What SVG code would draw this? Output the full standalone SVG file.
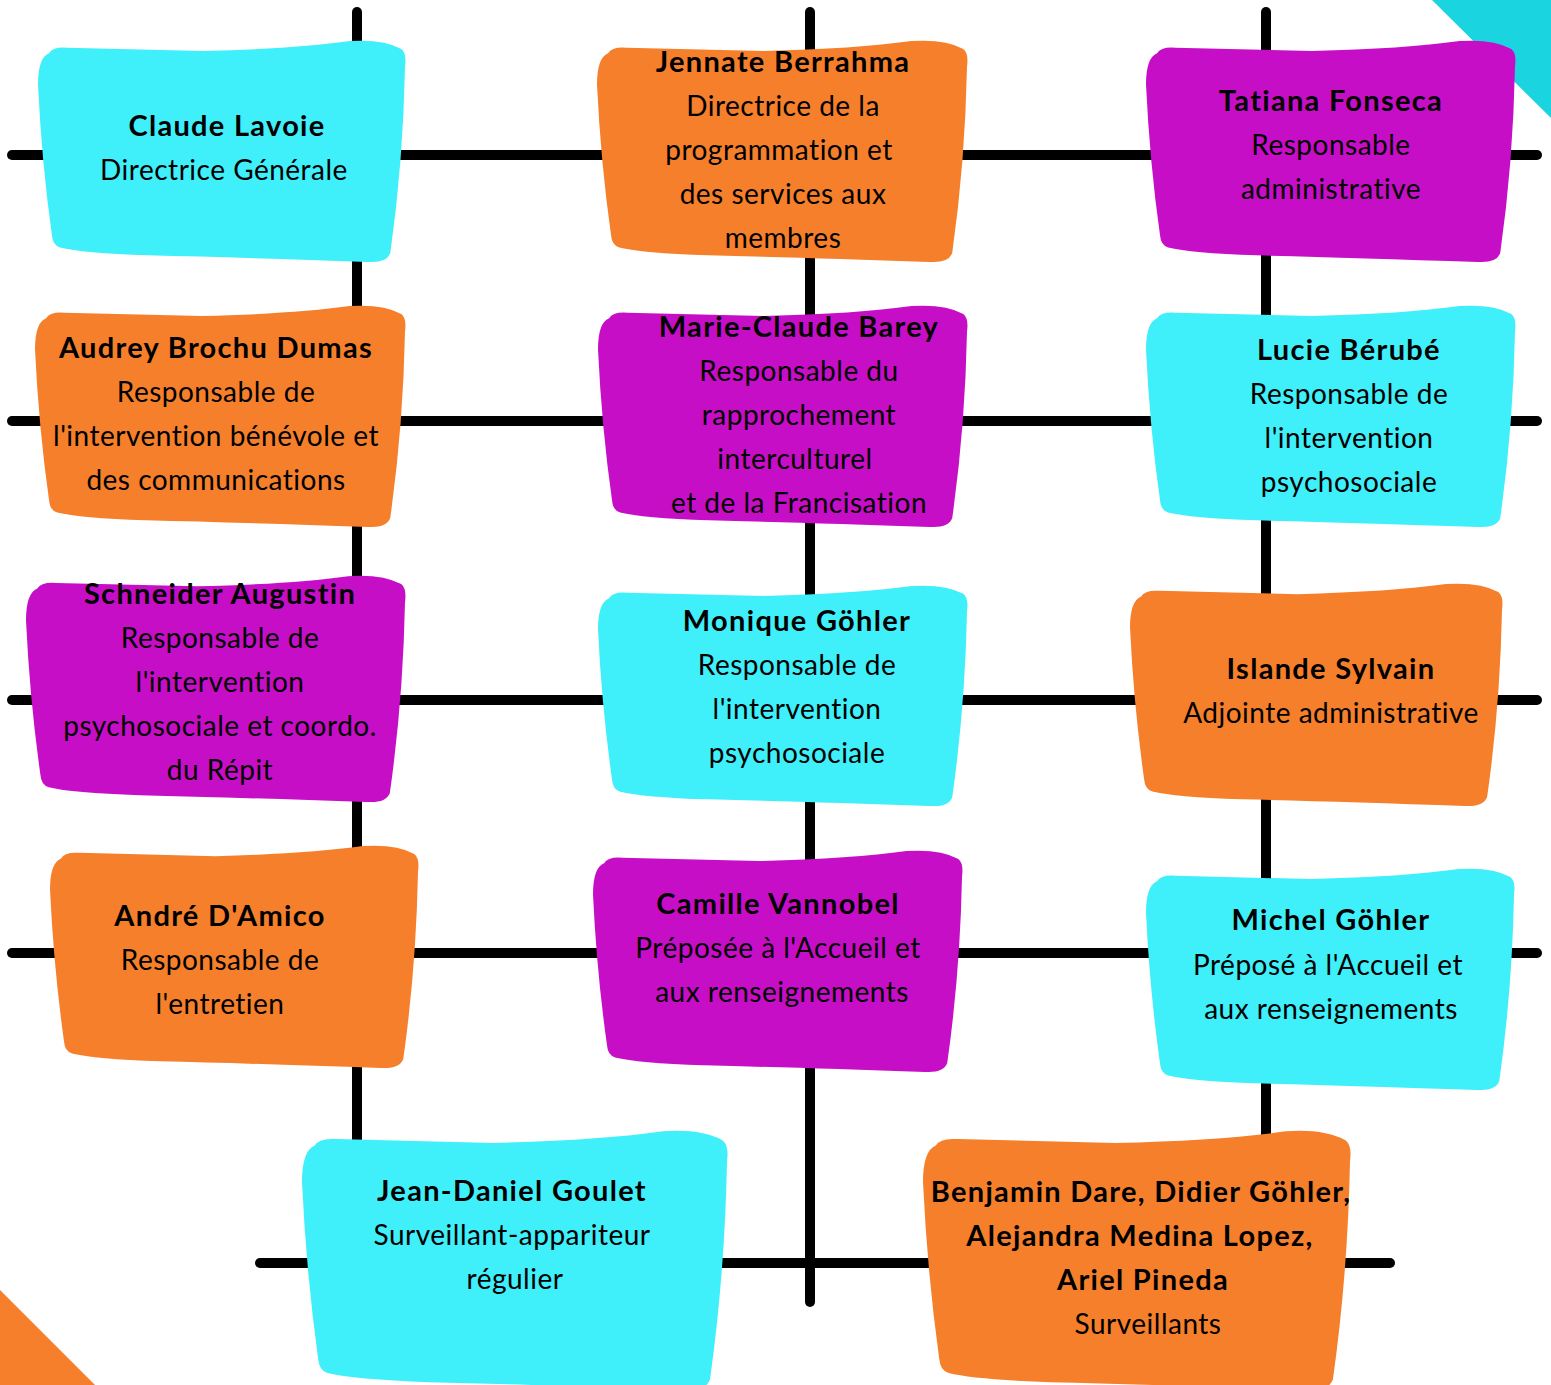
<svg xmlns="http://www.w3.org/2000/svg" width="1551" height="1385" viewBox="0 0 1551 1385">
<style>
.ln{stroke:#000;stroke-width:10;stroke-linecap:round;fill:none}
.cy{fill:#3FEFFA}.or{fill:#F57F2A}.mg{fill:#C60EC6}
text{font-family:Lato,"Liberation Sans",sans-serif;font-size:28px;letter-spacing:0.5px;fill:#000;text-anchor:middle}
.b{font-weight:bold;font-size:29px;letter-spacing:1.3px}
</style>
<defs>
<path id="blob" d="M 3 6 Q 4 3 8 3.5 L 45 5 Q 70 4 85 0.5 Q 94 -0.5 99 4 Q 100.5 6 100 12 Q 99.5 55 96 96 Q 95 100.5 90 100 Q 55 98 30 97 Q 12 96 6 93.5 Q 4 92.5 3.8 88 Q 1 55 0 20 Q 0 8 3 6 Z"/>
</defs>
<rect width="1551" height="1385" fill="#fff"/>
<polygon points="1432,0 1551,0 1551,118" fill="#1AD4E0"/>
<polygon points="0,1290 0,1385 95,1385" fill="#F57F2A"/>
<g id="connectors">
<line class="ln" x1="357" y1="12" x2="357" y2="1150"/>
<line class="ln" x1="810" y1="12" x2="810" y2="1302"/>
<line class="ln" x1="1266" y1="12" x2="1266" y2="1140"/>
<line class="ln" x1="12" y1="155" x2="1537" y2="155"/>
<line class="ln" x1="12" y1="421" x2="1537" y2="421"/>
<line class="ln" x1="12" y1="700" x2="1537" y2="700"/>
<line class="ln" x1="12" y1="953" x2="1537" y2="953"/>
<line class="ln" x1="260" y1="1263" x2="1390" y2="1263"/>
</g>
<g id="n-claude">
<use href="#blob" class="cy" transform="translate(38,40) scale(3.67,2.22)"/>
<text x="227" y="136" class="b">Claude Lavoie</text>
<text x="224" y="180">Directrice Générale</text>
</g>
<g id="n-audrey">
<use href="#blob" class="or" transform="translate(35,305) scale(3.7,2.22)"/>
<text x="216" y="358" class="b">Audrey Brochu Dumas</text>
<text x="216" y="402">Responsable de</text>
<text x="216" y="446">l'intervention bénévole et</text>
<text x="216" y="490">des communications</text>
</g>
<g id="n-schneider">
<use href="#blob" class="mg" transform="translate(26,575) scale(3.79,2.27)"/>
<text x="220" y="604" class="b">Schneider Augustin</text>
<text x="220" y="648">Responsable de</text>
<text x="220" y="692">l'intervention</text>
<text x="220" y="736">psychosociale et coordo.</text>
<text x="220" y="780">du Répit</text>
</g>
<g id="n-andre">
<use href="#blob" class="or" transform="translate(50,845) scale(3.68,2.23)"/>
<text x="220" y="926" class="b">André D'Amico</text>
<text x="220" y="970">Responsable de</text>
<text x="220" y="1014">l'entretien</text>
</g>
<g id="n-jeandaniel">
<use href="#blob" class="cy" transform="translate(302,1130) scale(4.25,2.6)"/>
<text x="512" y="1201" class="b">Jean-Daniel Goulet</text>
<text x="512" y="1245">Surveillant-appariteur</text>
<text x="515" y="1289">régulier</text>
</g>
<g id="n-jennate">
<use href="#blob" class="or" transform="translate(597,40) scale(3.7,2.22)"/>
<text x="783" y="72" class="b">Jennate Berrahma</text>
<text x="783" y="116">Directrice de la</text>
<text x="779" y="160">programmation et</text>
<text x="783" y="204">des services aux</text>
<text x="783" y="248">membres</text>
</g>
<g id="n-marieclaude">
<use href="#blob" class="mg" transform="translate(598,305) scale(3.69,2.22)"/>
<text x="799" y="337" class="b">Marie-Claude Barey</text>
<text x="799" y="381">Responsable du</text>
<text x="799" y="425">rapprochement</text>
<text x="795" y="469">interculturel</text>
<text x="799" y="513">et de la Francisation</text>
</g>
<g id="n-monique">
<use href="#blob" class="cy" transform="translate(598,585) scale(3.69,2.21)"/>
<text x="797" y="631" class="b">Monique Göhler</text>
<text x="797" y="675">Responsable de</text>
<text x="797" y="719">l'intervention</text>
<text x="797" y="763">psychosociale</text>
</g>
<g id="n-camille">
<use href="#blob" class="mg" transform="translate(593,850) scale(3.69,2.22)"/>
<text x="778" y="914" class="b">Camille Vannobel</text>
<text x="778" y="958">Préposée à l'Accueil et</text>
<text x="782" y="1002">aux renseignements</text>
</g>
<g id="n-surveillants">
<use href="#blob" class="or" transform="translate(923,1130) scale(4.27,2.6)"/>
<text x="1141" y="1202" class="b">Benjamin Dare, Didier Göhler,</text>
<text x="1140" y="1246" class="b">Alejandra Medina Lopez,</text>
<text x="1143" y="1290" class="b">Ariel Pineda</text>
<text x="1148" y="1334">Surveillants</text>
</g>
<g id="n-tatiana">
<use href="#blob" class="mg" transform="translate(1146,40) scale(3.69,2.22)"/>
<text x="1331" y="111" class="b">Tatiana Fonseca</text>
<text x="1331" y="155">Responsable</text>
<text x="1331" y="199">administrative</text>
</g>
<g id="n-lucie">
<use href="#blob" class="cy" transform="translate(1146,305) scale(3.69,2.22)"/>
<text x="1349" y="360" class="b">Lucie Bérubé</text>
<text x="1349" y="404">Responsable de</text>
<text x="1349" y="448">l'intervention</text>
<text x="1349" y="492">psychosociale</text>
</g>
<g id="n-islande">
<use href="#blob" class="or" transform="translate(1130,583) scale(3.72,2.23)"/>
<text x="1331" y="679" class="b">Islande Sylvain</text>
<text x="1331" y="723">Adjointe administrative</text>
</g>
<g id="n-michel">
<use href="#blob" class="cy" transform="translate(1146,868) scale(3.68,2.22)"/>
<text x="1331" y="930" class="b">Michel Göhler</text>
<text x="1328" y="975">Préposé à l'Accueil et</text>
<text x="1331" y="1019">aux renseignements</text>
</g>
</svg>
